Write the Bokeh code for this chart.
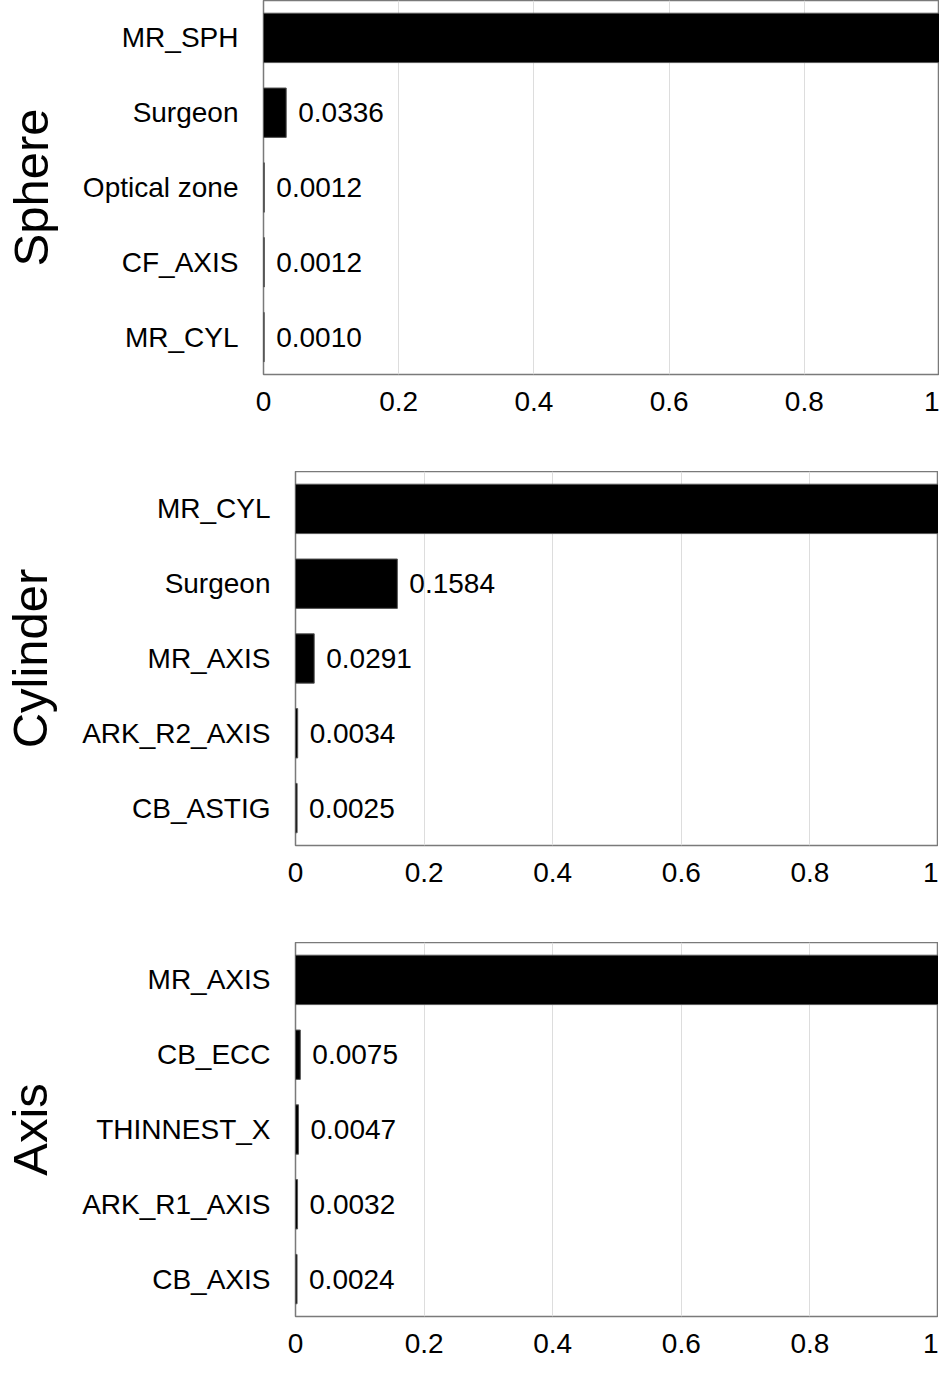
from bokeh.plotting import figure
from bokeh.models import FactorRange, Range1d, ColumnDataSource, FixedTicker
from bokeh.core.properties import value
from bokeh.embed import file_html
from bokeh.resources import INLINE

# ---- data ----
sphere_cats = ["MR_SPH", "Surgeon", "Optical zone", "CF_AXIS", "MR_CYL"]
sphere_vals = [1.0, 0.0336, 0.0012, 0.0012, 0.0010]

cyl_cats = ["MR_CYL", "Surgeon", "MR_AXIS", "ARK_R2_AXIS", "CB_ASTIG"]
cyl_vals = [1.0, 0.1584, 0.0291, 0.0034, 0.0025]

axis_cats = ["MR_AXIS", "CB_ECC", "THINNEST_X", "ARK_R1_AXIS", "CB_AXIS"]
axis_vals = [1.0, 0.0075, 0.0047, 0.0032, 0.0024]

panel_titles = ["Sphere", "Cylinder", "Axis"]
x_ticks = [0, 0.2, 0.4, 0.6, 0.8, 1]
x_tick_labels = ["0", "0.2", "0.4", "0.6", "0.8", "1"]

FONT = "Liberation Sans"
FS = "28px"


def make_panel(title, cats, vals, left, top, bottom, frame_w, frame_h):
    p = figure(
        y_range=FactorRange(*cats[::-1]),
        x_range=Range1d(0, 1),
        frame_width=frame_w,
        frame_height=frame_h,
        min_border_left=left,
        min_border_right=0,
        min_border_top=top,
        min_border_bottom=bottom,
        output_backend="svg",
        toolbar_location=None,
        background_fill_color="white",
        border_fill_color="white",
    )
    src = ColumnDataSource(dict(cat=cats, val=vals))
    p.hbar(y="cat", right="val", left=0, height=0.66, source=src,
           fill_color="black", line_color="#555555", line_width=1)

    lab_cats = [c for c, v in zip(cats, vals) if v < 1]
    lab_vals = [v for v in vals if v < 1]
    lab_txt = ["%.4f" % v for v in lab_vals]
    lsrc = ColumnDataSource(dict(cat=lab_cats, val=lab_vals, txt=lab_txt))
    p.text(x="val", y="cat", text="txt", source=lsrc, x_offset=12,
           text_align="left", text_baseline="middle",
           text_font=value(FONT), text_font_size=FS, text_color="black")

    p.outline_line_color = "#7a7a7a"
    p.outline_line_width = 1.5

    p.ygrid.grid_line_color = None
    p.xgrid.grid_line_color = "#dddddd"
    p.xgrid.grid_line_width = 1

    xa = p.xaxis[0]
    xa.ticker = FixedTicker(ticks=x_ticks)
    xa.major_label_overrides = {t: l for t, l in zip(x_ticks, x_tick_labels)}
    xa.axis_line_color = None
    xa.major_tick_line_color = None
    xa.minor_tick_line_color = None
    xa.major_tick_out = 0
    xa.major_tick_in = 0
    xa.major_label_standoff = 17
    xa.major_label_text_font = FONT
    xa.major_label_text_font_size = FS
    xa.major_label_text_color = "black"

    ya = p.yaxis[0]
    ya.axis_line_color = None
    ya.major_tick_line_color = None
    ya.minor_tick_line_color = None
    ya.major_tick_out = 0
    ya.major_tick_in = 0
    ya.major_label_standoff = 25
    ya.major_label_text_font = FONT
    ya.major_label_text_font_size = FS
    ya.major_label_text_color = "black"
    ya.axis_label = title
    ya.axis_label_text_font = FONT
    ya.axis_label_text_font_size = "49px"
    ya.axis_label_text_font_style = "normal"
    ya.axis_label_text_color = "black"
    ya.axis_label_standoff = 22
    return p


p1 = make_panel(panel_titles[0], sphere_cats, sphere_vals, 252, 0, 97, 676, 374)
p2 = make_panel(panel_titles[1], cyl_cats, cyl_vals, 285, 0, 97, 643, 374)
p3 = make_panel(panel_titles[2], axis_cats, axis_vals, 285, 0, 48, 643, 374)

open("out.html", "w").write(file_html([p1, p2, p3], INLINE))
